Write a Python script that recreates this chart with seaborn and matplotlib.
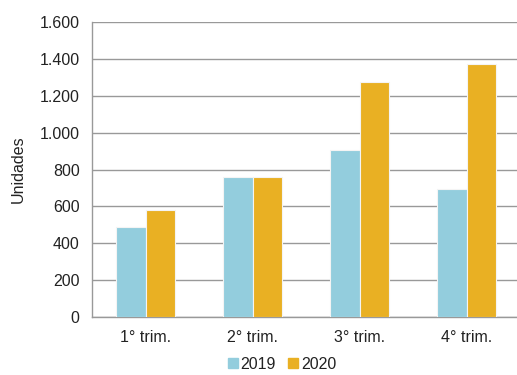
import pandas as pd
import matplotlib
matplotlib.use("Agg")
import matplotlib.pyplot as plt
import seaborn as sns
from matplotlib.ticker import FuncFormatter, FixedLocator

# Data
trimestres = ["1° trim.", "2° trim.", "3° trim.", "4° trim."]
anos = ["2019", "2020"]
valores_2019 = [487, 760, 905, 695]
valores_2020 = [580, 760, 1275, 1370]
cores = ["#93CDDD", "#E9B023"]

df = pd.DataFrame({
    "Trimestre": trimestres * 2,
    "Ano": [anos[0]] * 4 + [anos[1]] * 4,
    "Unidades": valores_2019 + valores_2020,
})

sns.set_style("white")
plt.rcParams["font.family"] = ["Liberation Sans", "DejaVu Sans"]
fs = 11.5

fig = plt.figure(figsize=(5.17, 3.75), dpi=100)
ax = fig.add_axes([92 / 517, 1 - 317 / 375, 428 / 517, 295 / 375])

sns.barplot(data=df, x="Trimestre", y="Unidades", hue="Ano",
            palette=cores, saturation=1, width=0.56, ax=ax, legend=False,
            edgecolor="#F4F4F4", linewidth=0.8, zorder=3)

ax.set_xlim(-0.5, 3.5)
ax.set_ylim(0, 1600)
ax.set_yticks(range(0, 1601, 200))
ax.yaxis.set_major_formatter(FuncFormatter(lambda v, p: f"{int(v):,}".replace(",", ".")))
ax.grid(axis="y", color="#999999", linewidth=1.0, zorder=0)
ax.set_axisbelow(True)

for s in ["top", "right"]:
    ax.spines[s].set_visible(False)
for s in ["left", "bottom"]:
    ax.spines[s].set_color("#999999")
    ax.spines[s].set_linewidth(1.0)

# category boundary ticks on x
ax.xaxis.set_minor_locator(FixedLocator([-0.5, 0.5, 1.5, 2.5, 3.5]))
ax.tick_params(axis="x", which="major", length=0, pad=9, labelsize=fs, labelcolor="#222222")
ax.tick_params(axis="x", which="minor", length=5, width=1.0, color="#999999")
ax.tick_params(axis="y", which="major", length=5, width=1.0, color="#999999",
               labelsize=fs, labelcolor="#222222", pad=4)

ax.set_xlabel("")
ax.set_ylabel("Unidades", fontsize=fs, color="#222222", labelpad=10)

handles = [plt.Rectangle((0, 0), 1, 1, color=c) for c in cores]
fig.legend(handles, anos, loc="lower center", ncol=2, frameon=False,
           bbox_to_anchor=(282 / 517, -0.03), fontsize=fs, handlelength=0.62,
           handleheight=0.62, handletextpad=0.15, columnspacing=0.8,
           labelcolor="#222222")

fig.savefig("out.png", dpi=100)
